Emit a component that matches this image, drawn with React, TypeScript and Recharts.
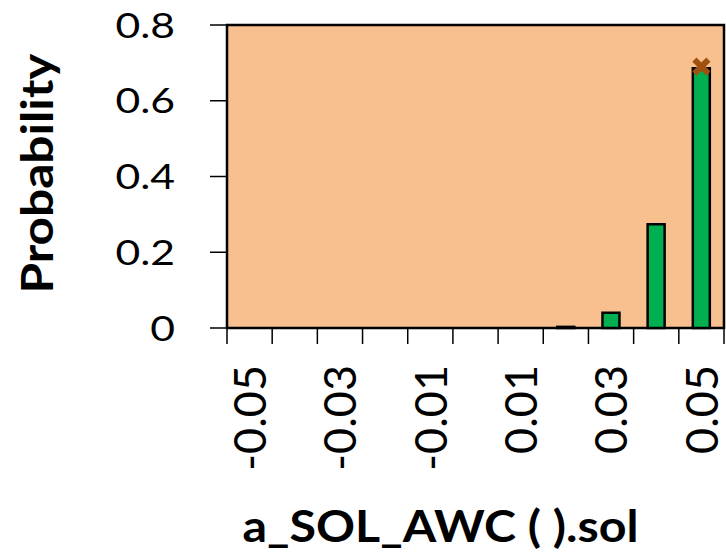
import {
  Bar,
  ComposedChart,
  ReferenceArea,
  Scatter,
  XAxis,
  YAxis,
} from "recharts";

const binCenters = [-0.05, -0.04, -0.03, -0.02, -0.01, 0, 0.01, 0.02, 0.03, 0.04, 0.05];
const probabilities = [0, 0, 0, 0, 0, 0, 0, 0.003, 0.04, 0.274, 0.686];
const binEdges = [-0.055, -0.045, -0.035, -0.025, -0.015, -0.005, 0.005, 0.015, 0.025, 0.035, 0.045, 0.055];
const xLabelTicks = [-0.05, -0.03, -0.01, 0.01, 0.03, 0.05];
const yTicks = [0, 0.2, 0.4, 0.6, 0.8];
const markerX = [0.05];
const markerP = [0.69];

const data = binCenters.map((x, i) => ({ x, p: probabilities[i] }));
const markerData = markerX.map((x, i) => ({ x, p: markerP[i] }));

const FONT = "Lato, 'Open Sans', sans-serif";
const isEdge = (v: number) => binEdges.some((e) => Math.abs(e - v) < 1e-9);

function XTick({ x, y, payload }: any) {
  const v = payload.value as number;
  if (isEdge(v)) {
    return <line x1={x} x2={x} y1={y - 16} y2={y} stroke="#000" strokeWidth={1.5} />;
  }
  const ty = y + 21;
  return (
    <text
      x={x}
      y={ty}
      transform={`rotate(-90, ${x}, ${ty})`}
      textAnchor="end"
      dy="0.36em"
      fontSize={45}
      fontFamily={FONT}
      fill="#000"
    >
      {String(v)}
    </text>
  );
}

// source y tick text is a bit wider than Lato, stretch it horizontally
function YTick({ x, y, payload }: any) {
  return (
    <text
      transform={`translate(${x}, ${y}) scale(1.22, 1)`}
      textAnchor="end"
      dy="0.36em"
      fontSize={35}
      fontFamily={FONT}
      fill="#000"
    >
      {String(payload.value)}
    </text>
  );
}

function XAxisTitle({ viewBox }: any) {
  const cx = viewBox.x + viewBox.width / 2 - 35;
  const by = viewBox.y + viewBox.height - 14;
  return (
    <text
      x={cx}
      y={by}
      textAnchor="middle"
      textLength={396}
      lengthAdjust="spacingAndGlyphs"
      fontSize={43}
      fontWeight={700}
      fontFamily={FONT}
      fill="#000"
    >
      a_SOL_AWC ( ).sol
    </text>
  );
}

function YAxisTitle({ viewBox }: any) {
  const cx = 37;
  const cy = viewBox.y + viewBox.height / 2 - 3;
  return (
    <text
      transform={`translate(${cx}, ${cy}) rotate(-90)`}
      textAnchor="middle"
      dy="0.36em"
      textLength={240}
      lengthAdjust="spacingAndGlyphs"
      fontSize={44}
      fontWeight={700}
      fontFamily={FONT}
      fill="#000"
    >
      Probability
    </text>
  );
}

function XMarker({ cx, cy }: any) {
  const r = 7;
  return (
    <g stroke="#A0500F" strokeWidth={6} strokeLinecap="butt">
      <line x1={cx - r} y1={cy - r} x2={cx + r} y2={cy + r} />
      <line x1={cx - r} y1={cy + r} x2={cx + r} y2={cy - r} />
    </g>
  );
}

export default function App() {
  return (
    <div style={{ position: "absolute", left: 0, top: 0, background: "#fff" }}>
      <ComposedChart
        width={726}
        height={556}
        data={data}
        margin={{ top: 25, right: 2, left: 0, bottom: 0 }}
      >
        <XAxis
          dataKey="x"
          type="number"
          domain={[-0.055, 0.055]}
          ticks={[...binEdges, ...xLabelTicks]}
          interval={0}
          height={228}
          axisLine={false}
          tickLine={false}
          tickSize={16}
          tickMargin={0}
          tick={<XTick />}
          label={<XAxisTitle />}
        />
        <YAxis
          type="number"
          domain={[0, 0.8]}
          ticks={yTicks}
          width={227}
          axisLine={false}
          tickLine={{ stroke: "#000", strokeWidth: 1.5 }}
          tickSize={17}
          tickMargin={35}
          tick={<YTick />}
          label={<YAxisTitle />}
        />
        <ReferenceArea
          x1={-0.055}
          x2={0.055}
          y1={0}
          y2={0.8}
          fill="#F9C08F"
          fillOpacity={1}
          stroke="#000"
          strokeWidth={2.5}
        />
        <Bar
          dataKey="p"
          barSize={17}
          fill="#00B050"
          stroke="#000"
          strokeWidth={2.5}
          isAnimationActive={false}
        />
        <Scatter
          data={markerData}
          dataKey="p"
          shape={<XMarker />}
          isAnimationActive={false}
        />
      </ComposedChart>
    </div>
  );
}
